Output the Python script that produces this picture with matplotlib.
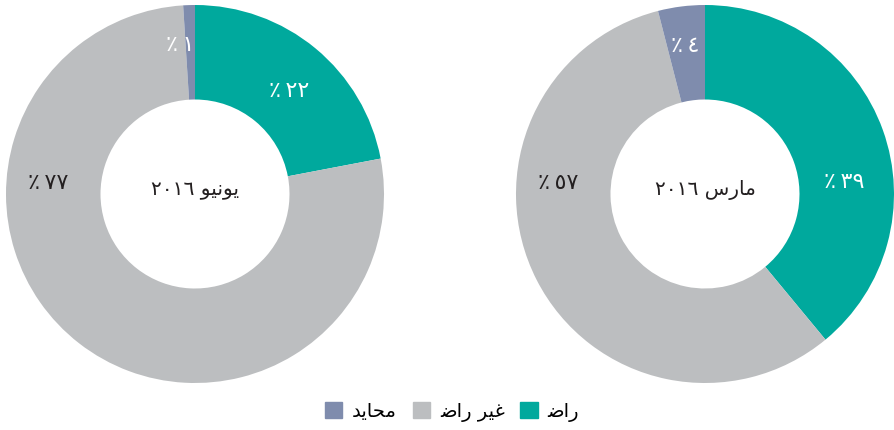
import matplotlib
matplotlib.use("Agg")
import matplotlib.pyplot as plt
import numpy as np
from matplotlib.patches import Patch

plt.rcParams['font.family'] = ['DejaVu Sans']

# legend / categories (visual order already shaped for LTR drawing)
cat_names = ['\uFEBF\uFE8D\uFEAD',                      # راض
             '\uFEBF\uFE8D\uFEAD \uFEAE\uFEF4\uFECF',   # غير راض
             '\uFEAA\uFEF3\uFE8E\uFEA4\uFEE3']          # محايد
colors = ['#00A99D', '#BCBEC0', '#7F8CAD']

# donuts
titles = ['\u0662\u0660\u0661\u0666 \uFEEE\uFEF4\uFEE7\uFEEE\uFEF3',   # يونيو ٢٠١٦
          '\u0662\u0660\u0661\u0666 \uFEB1\uFEAD\uFE8E\uFEE3']         # مارس ٢٠١٦
june_vals = [22, 77, 1]
march_vals = [39, 57, 4]

# label angles (deg) and radii picked to match the reference placement
june_lab_ang = [47.6, 175.7, 95.7]
march_lab_ang = [4.8, 175.9, 97.8]
lab_r = [0.74, 0.78, 0.79]

arabic_digits = str.maketrans('0123456789', '\u0660\u0661\u0662\u0663\u0664\u0665\u0666\u0667\u0668\u0669')

fig = plt.figure(figsize=(8.95, 4.3), dpi=100)

def donut(rect, vals, title, angs):
    ax = fig.add_axes(rect)
    ax.pie(vals, colors=colors, startangle=90, counterclock=False,
           radius=1, wedgeprops=dict(width=0.5, edgecolor='none'))
    ax.set_xlim(-1, 1)
    ax.set_ylim(-1, 1)
    ax.set_aspect('equal')
    ax.axis('off')
    ax.text(0, 0.02, title, ha='center', va='center', fontsize=14.5, color='#231F20')
    for i, v in enumerate(vals):
        a = np.radians(angs[i])
        txt = '\u066A\u2009' + str(v).translate(arabic_digits)
        c = '#231F20' if i == 1 else 'white'
        ax.text(lab_r[i] * np.cos(a), lab_r[i] * np.sin(a), txt, ha='center', va='center',
                fontsize=16, color=c)

W, H = 895, 430
donut([6 / W, 47 / H, 378 / W, 378 / H], june_vals, titles[0], june_lab_ang)
donut([516 / W, 47 / H, 378 / W, 378 / H], march_vals, titles[1], march_lab_ang)

handles = [Patch(color=colors[i], label=cat_names[i]) for i in [2, 1, 0]]
fig.legend(handles=handles, loc='center', bbox_to_anchor=(452 / W, 1 - 412 / H), ncol=3,
           frameon=False, markerfirst=True, fontsize=14, handlelength=0.9, handleheight=0.9,
           handletextpad=0.5, columnspacing=0.8)

fig.savefig('out.png', dpi=100)
